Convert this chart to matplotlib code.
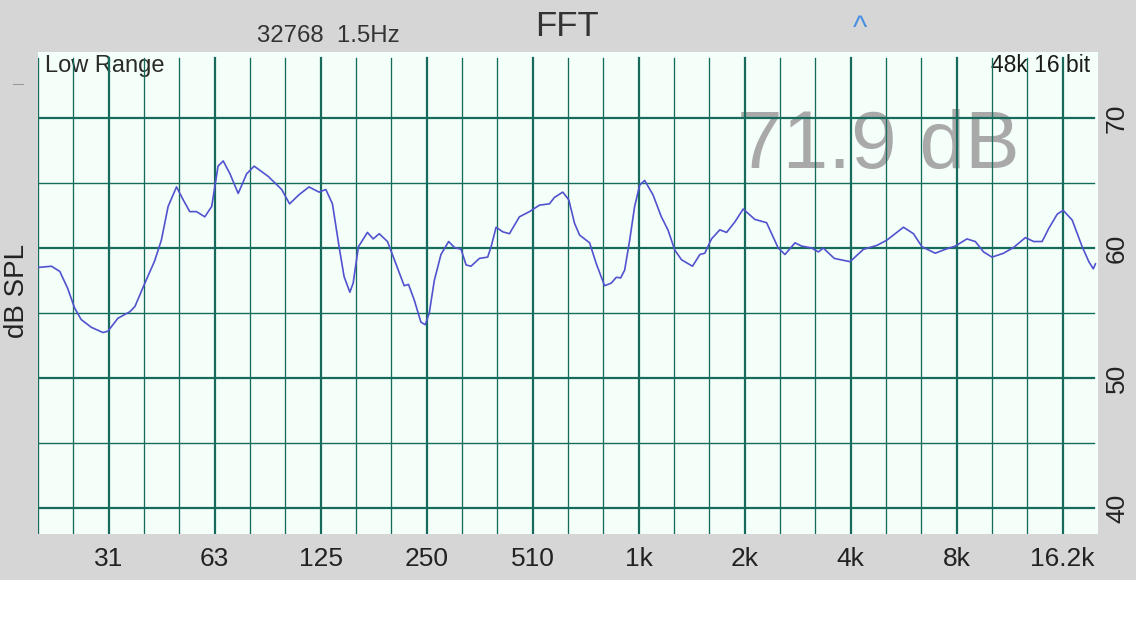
import matplotlib
matplotlib.use("Agg")
import matplotlib.pyplot as plt
from matplotlib.patches import Rectangle
from matplotlib.lines import Line2D
from matplotlib.ticker import NullLocator, FixedLocator

plt.rcParams['font.family'] = ['Liberation Sans', 'DejaVu Sans']

# ---- data ----
freq_hz = [19.6, 21.5, 22.7, 23.9, 25.0, 26.1, 27.9, 30.1, 31.1, 33.2,
           35.9, 37.1, 39.6, 42.2, 44.1, 46.1, 48.7, 50.9, 53.1, 55.5,
           58.6, 61.3, 63.9, 66.1, 69.1, 72.9, 77.0, 80.9, 88.8, 96.9,
           102, 108.5, 115.8, 123.7, 129.3, 135, 141, 145.7, 151.3, 154.6,
           160, 169.7, 176.2, 183.3, 193.5, 204.4, 215.8, 222, 230.5, 240.8,
           247.7, 254.3, 262.8, 274.5, 288.6, 299.6, 313, 323.5, 334, 352.9,
           372.6, 381, 393.7, 411, 429.4, 458.5, 489.7, 522.8, 558, 576.8,
           609, 633.4, 657.5, 679.4, 725.6, 757.8, 800.3, 836, 864, 888.8,
           912.5, 942.8, 974, 1007, 1040, 1098, 1160, 1211, 1266, 1323,
           1422, 1492, 1541, 1610, 1700, 1777, 1875, 1981, 2138, 2308,
           2491, 2603, 2779, 2903, 3100, 3238, 3345, 3594, 3984, 4347,
           4746, 5066, 5650, 6032, 6375, 6955, 7425, 7929, 8556, 9038,
           9541, 10081, 10875, 11616, 12538, 13240, 13988, 14606, 15434, 16053,
           17028, 18178, 18988, 19544, 19838]
spl_db = [58.5, 58.6, 58.2, 56.9, 55.4, 54.5, 53.9, 53.5, 53.6, 54.6,
          55.1, 55.5, 57.3, 59.0, 60.6, 63.2, 64.7, 63.7, 62.8, 62.8,
          62.4, 63.2, 66.3, 66.7, 65.7, 64.2, 65.7, 66.3, 65.5, 64.5,
          63.4, 64.1, 64.7, 64.3, 64.5, 63.4, 60.1, 57.8, 56.6, 57.3,
          60.1, 61.2, 60.7, 61.1, 60.5, 58.8, 57.1, 57.2, 56.0, 54.3,
          54.1, 55.0, 57.5, 59.5, 60.5, 60.05, 59.9, 58.7, 58.6, 59.2,
          59.3, 60.1, 61.6, 61.25, 61.1, 62.4, 62.8, 63.3, 63.4, 63.9,
          64.3, 63.7, 61.9, 61.0, 60.4, 58.8, 57.1, 57.3, 57.75, 57.7,
          58.3, 60.6, 63.2, 64.85, 65.2, 64.1, 62.4, 61.4, 59.85, 59.1,
          58.6, 59.5, 59.6, 60.7, 61.4, 61.2, 62.0, 63.0, 62.2, 61.95,
          60.0, 59.5, 60.4, 60.15, 60.0, 59.7, 60.0, 59.2, 58.95, 59.9,
          60.2, 60.6, 61.6, 61.1, 60.1, 59.6, 59.9, 60.15, 60.7, 60.5,
          59.7, 59.3, 59.6, 60.05, 60.8, 60.5, 60.5, 61.5, 62.6, 62.9,
          62.15, 60.1, 58.95, 58.4, 58.8]

octave_hz = [31.25, 62.5, 125, 250, 500, 1000, 2000, 4000, 8000, 16000]
octave_labels = ['31', '63', '125', '250', '510', '1k', '2k', '4k', '8k', '16.2k']
major_db = [40, 50, 60, 70]
minor_db = [45, 55, 65]

# ---- styling ----
GRID = '#176b5d'
PLOT_BG = '#f3fff8'
FRAME = '#d6d6d6'
CURVE = '#5252cf'

W, H = 1136, 640
fig = plt.figure(figsize=(W / 100, H / 100), dpi=100)
fig.patch.set_facecolor('white')
fig.add_artist(Rectangle((0, 60 / H), 1, 580 / H, transform=fig.transFigure,
                         facecolor=FRAME, edgecolor='none', zorder=-10))
fig.add_artist(Line2D([13 / W, 23 / W], [1 - 84 / H, 1 - 84 / H],
                      transform=fig.transFigure, color='#9a9a9a', lw=0.8))

ax = fig.add_axes([38 / W, (H - 534) / H, 1060 / W, 482 / H])
ax.set_zorder(1)
ax.set_facecolor(PLOT_BG)
ax.set_xscale('log', base=2)
ax.set_xlim(1000 * 2 ** (-17 / 3), 1000 * 2 ** (13 / 3))
ax.set_ylim(38.0, 75.08)
for s in ax.spines.values():
    s.set_visible(False)

# grid: third-octave thin lines, octave thick lines
third_oct = [1000 * 2 ** (k / 3) for k in range(-17, 13) if k % 3 != 0]
vtop = 1 - 6 / 482
for f in third_oct:
    ax.axvline(f, ymin=0, ymax=vtop, color=GRID, lw=0.95, zorder=2)
for f in octave_hz:
    ax.axvline(f, ymin=0, ymax=vtop, color=GRID, lw=1.6, zorder=2)
hx = 1 - 4 / 1060
for d in minor_db:
    ax.axhline(d, xmin=0, xmax=hx, color=GRID, lw=1.0, zorder=2)
for d in major_db:
    ax.axhline(d, xmin=0, xmax=hx, color=GRID, lw=1.6, zorder=2)

# big level readout behind grid
ax.text(699 / 1060, 1 - (168 - 52) / 482, '71.9 dB', transform=ax.transAxes,
        fontsize=59, color='#a9a9a9', ha='left', va='baseline', zorder=1)

ax.plot(freq_hz, spl_db, color=CURVE, lw=1.2, zorder=3,
        solid_joinstyle='round', solid_capstyle='round')

# ticks
ax.xaxis.set_major_locator(FixedLocator(octave_hz))
ax.xaxis.set_minor_locator(NullLocator())
ax.set_xticklabels(octave_labels)
ax.tick_params(axis='x', length=0, pad=9, labelsize=19, labelcolor='#222222')

ax.yaxis.tick_right()
ax.yaxis.set_major_locator(FixedLocator(major_db))
ax.yaxis.set_minor_locator(NullLocator())
ax.set_yticklabels([str(v) for v in major_db])
ax.tick_params(axis='y', length=0, pad=5, labelsize=19, labelcolor='#222222')
for lbl in ax.get_yticklabels():
    lbl.set_rotation(90)
    lbl.set_va('center')
    lbl.set_ha('left')

# texts
ax.text(7 / 1060, 1 - (72 - 52) / 482, 'Low Range', transform=ax.transAxes,
        fontsize=17, color='#2a2a2a', ha='left', va='baseline', zorder=1.5)
ax.text(1052 / 1060, 1 - (72 - 52) / 482, '48k 16 bit', transform=ax.transAxes,
        fontsize=16.5, color='#1a1a1a', ha='right', va='baseline', zorder=1.5)

fig.text(17 / W, 1 - 291 / H, 'dB SPL', rotation=90, ha='center', va='center',
         fontsize=20, color='#222222')
fig.text(257 / W, 1 - 36 / H, '32768  1.5Hz', ha='left', va='center',
         fontsize=17.3, color='#333333')
fig.text(567 / W, 1 - 27 / H, 'FFT', ha='center', va='center',
         fontsize=25, color='#333333')
fig.text(860 / W, 1 - 29 / H, '^', ha='center', va='center',
         fontsize=22, color='#4a90e2')

fig.savefig('out.png', dpi=100, facecolor=fig.get_facecolor())
